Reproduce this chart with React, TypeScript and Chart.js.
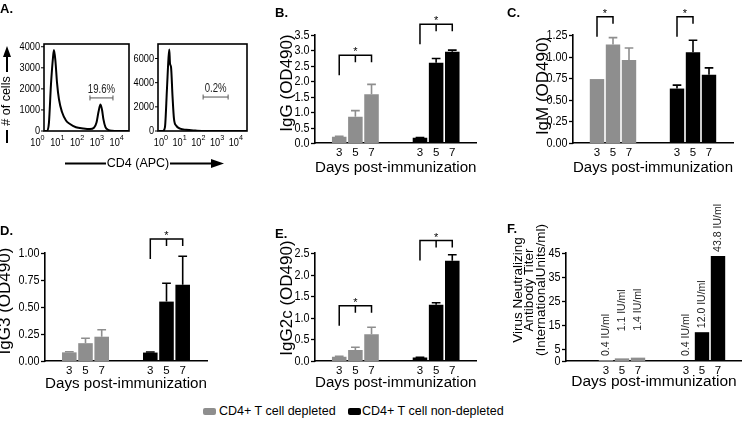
import React, { useEffect, useRef } from 'react';
import { Chart, registerables } from 'chart.js';

Chart.register(...registerables);

const FONT = "'Liberation Sans', Arial, Helvetica, sans-serif";
const GRAY = '#8e8e8e';
const BLACK = '#000000';

// ---------------- Panel A: flow cytometry histograms ----------------
const flowDecades = [0, 1, 2, 3, 4];
const histLeftCD4 = [2.2, 3.0, 3.8, 4.8, 6.1, 6.8, 8.1, 9.7, 12.2, 17.3, 27.5, 43.7, 87.7, 200, 447, 711, 955, 1200, 1515, 1820, 2140, 2700, 3630, 5760, 11700, 40000];
const histLeftCount = [0, 0, 400, 2200, 3500, 3840, 3300, 2300, 1500, 900, 500, 330, 180, 120, 90, 150, 400, 900, 1260, 1000, 550, 180, 60, 10, 0, 0];
const histRightCD4 = [0.75, 1.28, 1.64, 2.11, 2.54, 2.81, 3.06, 3.47, 4.2, 5.0, 6.5, 10.6, 22.4, 69, 240, 40000];
const histRightCount = [0, 0, 300, 3500, 6000, 6750, 5600, 5300, 2800, 1000, 450, 200, 100, 40, 0, 0];
const histLeftTicks = [0, 1000, 2000, 3000, 4000];
const histRightTicks = [0, 2000, 4000, 6000];
const gateLeft = [447, 6460];
const gateLeftCount = 1570;
const gateLeftLabel = '19.6%';
const gateRight = [180, 3900];
const gateRightCount = 2810;
const gateRightLabel = '0.2%';

// ---------------- Panels B-F: bar charts ----------------
const dayLabels = ['', '3', '5', '7', '', '', '3', '5', '7', ''];
const titerDayLabels = ['', '', '3', '5', '7', '', '', '3', '5', '7', ''];
const seriesNames = ['CD4+ T cell depleted', 'CD4+ T cell non-depleted'];
const xTitle = 'Days post-immunization';

const iggDepleted = [0.2, 0.85, 1.58];
const iggDepletedErr = [0.02, 0.2, 0.32];
const iggNonDepleted = [0.17, 2.6, 2.96];
const iggNonDepletedErr = [0.01, 0.14, 0.05];
const iggTicks = ['0.0', '0.5', '1.0', '1.5', '2.0', '2.5', '3.0', '3.5'];
const iggBrackets = [{ group: 0, from: 0, to: 2, y: 2.84 }, { group: 1, from: 0, to: 2, y: 3.85 }];

const igmDepleted = [0.74, 1.14, 0.96];
const igmDepletedErr = [0, 0.08, 0.14];
const igmNonDepleted = [0.63, 1.05, 0.79];
const igmNonDepletedErr = [0.04, 0.14, 0.08];
const igmTicks = ['0.00', '0.25', '0.50', '0.75', '1.00', '1.25'];
const igmBrackets = [{ group: 0, from: 0, to: 1, y: 1.46 }, { group: 1, from: 0, to: 1, y: 1.46 }];

const igg3Depleted = [0.08, 0.165, 0.225];
const igg3DepletedErr = [0.005, 0.045, 0.065];
const igg3NonDepleted = [0.078, 0.55, 0.705];
const igg3NonDepletedErr = [0.005, 0.17, 0.265];
const igg3Ticks = ['0.00', '0.25', '0.50', '0.75', '1.00'];
const igg3Brackets = [{ group: 1, from: 0, to: 2, y: 1.13 }];

const igg2cDepleted = [0.1, 0.255, 0.62];
const igg2cDepletedErr = [0.01, 0.065, 0.16];
const igg2cNonDepleted = [0.08, 1.3, 2.32];
const igg2cNonDepletedErr = [0.005, 0.05, 0.14];
const igg2cTicks = ['0.0', '0.5', '1.0', '1.5', '2.0', '2.5'];
const igg2cBrackets = [{ group: 0, from: 0, to: 2, y: 1.28 }, { group: 1, from: 0, to: 2, y: 2.79 }];

const titerDepleted = [0.4, 1.1, 1.4];
const titerNonDepleted = [0.4, 12.0, 43.8];
const titerTicks = ['0', '5', '15', '25', '35', '45'];

Chart.defaults.font.family = FONT;
Chart.defaults.color = '#000';

function drawText(ctx: any, text: string, x: number, y: number, size: number, align: string, sx = 1, rot = 0, weight = '') {
  ctx.save();
  ctx.translate(x, y);
  if (rot) ctx.rotate(rot);
  ctx.scale(sx, 1);
  ctx.font = `${weight} ${size}px ${FONT}`;
  ctx.textAlign = align;
  ctx.textBaseline = 'middle';
  ctx.fillText(text, 0, 0);
  ctx.restore();
}

const flowPlugin = {
  id: 'flow',
  afterDraw(chart: any, _a: any, o: any) {
    const { ctx, chartArea: a } = chart;
    const xs = chart.scales.x;
    const ys = chart.scales.y;
    ctx.save();
    ctx.strokeStyle = '#000';
    ctx.fillStyle = '#000';
    ctx.lineWidth = 1.6;
    ctx.strokeRect(a.left, a.top, a.right - a.left, a.bottom - a.top);
    ctx.lineWidth = 1;
    const yt = o.yTicks as number[];
    for (let i = 0; i < yt.length; i++) {
      const py = ys.getPixelForValue(yt[i]);
      ctx.beginPath();
      ctx.moveTo(a.left - 3, py);
      ctx.lineTo(a.left, py);
      ctx.stroke();
      drawText(ctx, String(yt[i]), a.left - 4, py, 11.5, 'right', 0.8);
    }
    const dec = o.decades as number[];
    for (let i = 0; i < dec.length; i++) {
      const k = dec[i];
      const px = xs.getPixelForValue(Math.pow(10, k));
      ctx.font = `11.5px ${FONT}`;
      const wb = ctx.measureText('10').width * 0.8;
      ctx.font = `8px ${FONT}`;
      const we = ctx.measureText(String(k)).width * 0.9;
      const x0 = px - (wb + we) / 2;
      drawText(ctx, '10', x0, a.bottom + 12, 11.5, 'left', 0.8);
      drawText(ctx, String(k), x0 + wb, a.bottom + 6.5, 8, 'left', 0.9);
    }
    const g = o.gate as number[];
    const gx1 = xs.getPixelForValue(g[0]);
    const gx2 = xs.getPixelForValue(g[1]);
    const gy = ys.getPixelForValue(o.gateCount);
    ctx.strokeStyle = '#555';
    ctx.beginPath();
    ctx.moveTo(gx1, gy); ctx.lineTo(gx2, gy);
    ctx.moveTo(gx1, gy - 2.5); ctx.lineTo(gx1, gy + 2.5);
    ctx.moveTo(gx2, gy - 2.5); ctx.lineTo(gx2, gy + 2.5);
    ctx.stroke();
    ctx.fillStyle = '#222';
    drawText(ctx, o.gateLabel, (gx1 + gx2) / 2, gy - 8, 12, 'center', 0.8);

    if (o.annotate) {
      ctx.strokeStyle = '#000';
      ctx.fillStyle = '#000';
      ctx.lineWidth = 2;
      const ax = 7;
      ctx.beginPath();
      ctx.moveTo(ax, 56); ctx.lineTo(ax, 72);
      ctx.moveTo(ax, 130); ctx.lineTo(ax, 143);
      ctx.stroke();
      ctx.beginPath();
      ctx.moveTo(ax, 46); ctx.lineTo(ax - 4, 57); ctx.lineTo(ax + 4, 57); ctx.closePath();
      ctx.fill();
      drawText(ctx, '# of cells', ax, 101, 12.5, 'center', 1, -Math.PI / 2);
      const ay = 163.5;
      ctx.beginPath();
      ctx.moveTo(65, ay); ctx.lineTo(106, ay);
      ctx.moveTo(170, ay); ctx.lineTo(212, ay);
      ctx.stroke();
      ctx.beginPath();
      ctx.moveTo(224, ay); ctx.lineTo(211, ay - 4.5); ctx.lineTo(211, ay + 4.5); ctx.closePath();
      ctx.fill();
      drawText(ctx, 'CD4 (APC)', 138, ay, 12.5, 'center', 1);
    }
    ctx.restore();
  },
};

function flowConfig(xs: number[], ys: number[], opts: any) {
  return {
    type: 'line',
    data: {
      datasets: [
        {
          data: xs.map((x, i) => ({ x, y: ys[i] })),
          borderColor: '#000',
          borderWidth: 2,
          pointRadius: 0,
          cubicInterpolationMode: 'monotone',
          fill: false,
        },
      ],
    },
    options: {
      animation: false,
      responsive: false,
      layout: { padding: opts.padding },
      plugins: {
        legend: { display: false },
        tooltip: { enabled: false },
        flow: {
          yTicks: opts.yTicks,
          decades: flowDecades,
          gate: opts.gate,
          gateCount: opts.gateCount,
          gateLabel: opts.gateLabel,
          annotate: opts.annotate,
        },
      },
      scales: {
        x: { type: 'logarithmic', display: false, min: opts.xMin, max: opts.xMax },
        y: { display: false, min: 0, max: opts.yMax },
      },
    },
    plugins: [flowPlugin],
  };
}

// ---------- bar chart plugins ----------
const errorBarPlugin = {
  id: 'errorBars',
  afterDatasetsDraw(chart: any) {
    const ctx = chart.ctx;
    const ys = chart.scales.y;
    chart.data.datasets.forEach((ds: any, di: number) => {
      const errs = ds.errors;
      if (!errs) return;
      const meta = chart.getDatasetMeta(di);
      meta.data.forEach((bar: any, i: number) => {
        const v = ds.data[i];
        const e = errs[i];
        if (v == null || e == null || e <= 0) return;
        const yTop = ys.getPixelForValue(v + e);
        const x = bar.x;
        const half = bar.width * 0.3;
        ctx.save();
        ctx.strokeStyle = ds.backgroundColor;
        ctx.lineWidth = 1.6;
        ctx.beginPath();
        ctx.moveTo(x, bar.y);
        ctx.lineTo(x, yTop);
        ctx.moveTo(x - half, yTop);
        ctx.lineTo(x + half, yTop);
        ctx.stroke();
        ctx.restore();
      });
    });
  },
};

function makeDecorPlugin(spec: any, geo: any) {
  return {
    id: 'decor',
    afterDraw(chart: any) {
      const ctx = chart.ctx;
      const ys = chart.scales.y;
      const a = chart.chartArea;
      ctx.save();
      ctx.strokeStyle = '#000';
      ctx.fillStyle = '#000';
      ctx.lineWidth = 1.3;
      // y tick marks and labels
      const ticks: string[] = spec.yTicks;
      for (let i = 0; i < ticks.length; i++) {
        const txt = ticks[i];
        const py = Math.round(ys.getPixelForValue(parseFloat(txt))) + 0.5;
        ctx.beginPath();
        ctx.moveTo(a.left - 4, py);
        ctx.lineTo(a.left, py);
        ctx.stroke();
        drawText(ctx, txt, a.left - 5.5, py, 12, 'right', 0.9);
      }
      // y axis title (one or more rotated lines)
      const lines: string[] = Array.isArray(spec.yTitle) ? spec.yTitle : [spec.yTitle];
      const tx: number[] = spec.titlePos.x;
      for (let i = 0; i < lines.length; i++) {
        drawText(ctx, lines[i], tx[i] - geo.left, spec.titlePos.y - geo.top, spec.yTitleSize, 'center', 1, -Math.PI / 2);
      }
      // significance brackets
      const items = spec.brackets || [];
      for (let n = 0; n < items.length; n++) {
        const b = items[n];
        const ds = chart.data.datasets[b.group];
        const meta = chart.getDatasetMeta(b.group);
        const bars = meta.data.filter((_: any, i: number) => ds.data[i] != null);
        const x1 = bars[b.from].x;
        const x2 = bars[b.to].x;
        const y = ys.getPixelForValue(b.y);
        ctx.lineWidth = 1.5;
        ctx.beginPath();
        ctx.moveTo(x1, y + 20);
        ctx.lineTo(x1, y);
        ctx.lineTo(x2, y);
        ctx.lineTo(x2, y + 7);
        for (let k = b.from + 1; k < b.to; k++) {
          ctx.moveTo(bars[k].x, y);
          ctx.lineTo(bars[k].x, y + 7);
        }
        ctx.stroke();
        drawText(ctx, '*', (x1 + x2) / 2, y - 3, 11, 'center');
      }
      // value labels above bars (panel F)
      if (spec.valueLabels) {
        chart.data.datasets.forEach((ds: any, di: number) => {
          const meta = chart.getDatasetMeta(di);
          const lifts = spec.labelLift ? spec.labelLift[di] : null;
          let k = 0;
          meta.data.forEach((bar: any, i: number) => {
            const v = ds.data[i];
            if (v == null) return;
            const lift = lifts ? lifts[k] : 0;
            k++;
            ctx.fillStyle = '#222';
            drawText(ctx, `${v.toFixed(1)} IU/ml`, bar.x, bar.y - 4 - lift, 10.5, 'left', 1, -Math.PI / 2);
          });
        });
      }
      ctx.restore();
    },
  };
}

function toSlots(labels: string[], values: number[] | undefined, group: number) {
  const out: (number | null)[] = labels.map(() => null);
  if (!values) return out;
  const idx = labels.map((l, i) => (l ? i : -1)).filter((i) => i >= 0).slice(group * 3, group * 3 + 3);
  idx.forEach((s, k) => (out[s] = values[k]));
  return out;
}

function barGeometry(g: any) {
  const xLH = 15.5 * 1.2;
  const left = g.left;
  const yAxisW = g.axisX - left;
  const width = Math.round(yAxisW + g.chartW + g.padRight);
  const padRight = width - yAxisW - g.chartW;
  const height = Math.round(g.xTitleY + xLH / 2 - g.top);
  const xAxisH = height - (g.zeroY - g.top);
  return { left, top: g.top, width, height, yAxisW, xAxisH, padRight, padTop: g.padTop };
}

function barConfig(s: any, geo: any) {
  const labels = s.labels;
  return {
    type: 'bar',
    data: {
      labels,
      datasets: [
        {
          label: seriesNames[0],
          data: toSlots(labels, s.dep, 0),
          errors: toSlots(labels, s.depErr, 0),
          backgroundColor: GRAY,
          grouped: false,
          barPercentage: 0.9,
          categoryPercentage: 1,
        },
        {
          label: seriesNames[1],
          data: toSlots(labels, s.nd, 1),
          errors: toSlots(labels, s.ndErr, 1),
          backgroundColor: BLACK,
          grouped: false,
          barPercentage: 0.9,
          categoryPercentage: 1,
        },
      ],
    },
    options: {
      animation: false,
      responsive: false,
      layout: { padding: { top: geo.padTop, right: geo.padRight, left: 0, bottom: 0 } },
      plugins: {
        legend: { display: false },
        tooltip: { enabled: false },
      },
      scales: {
        x: {
          grid: { display: false, drawTicks: false, tickLength: 0 },
          border: { display: true, color: '#000', width: 1.6 },
          ticks: { font: { size: 11.5 }, color: '#000', padding: 3, maxRotation: 0, autoSkip: false },
          title: { display: true, text: xTitle, font: { size: 15.5 }, color: '#000', padding: { top: 0, bottom: 0 } },
          afterFit: (sc: any) => {
            sc.height = geo.xAxisH;
          },
        },
        y: {
          min: 0,
          max: s.yMax,
          ticks: { display: false },
          grid: { display: false },
          border: { display: true, color: '#000', width: 1.6 },
          title: { display: false },
          afterFit: (sc: any) => {
            sc.width = geo.yAxisW;
          },
        },
      },
    },
    plugins: [errorBarPlugin, makeDecorPlugin(s, geo)],
  };
}

function ChartBox({ make, box }: { make: () => any; box: any }) {
  const ref = useRef<HTMLCanvasElement>(null);
  useEffect(() => {
    const chart = new Chart(ref.current as HTMLCanvasElement, make());
    return () => chart.destroy();
  }, []);
  return (
    <canvas
      ref={ref}
      width={box.width}
      height={box.height}
      style={{ position: 'absolute', left: box.left, top: box.top, width: box.width, height: box.height }}
    />
  );
}

const panelB = {
  labels: dayLabels, dep: iggDepleted, depErr: iggDepletedErr, nd: iggNonDepleted, ndErr: iggNonDepletedErr,
  yMax: 3.5, yTicks: iggTicks, yTitle: 'IgG (OD490)', yTitleSize: 17, brackets: iggBrackets,
  titlePos: { x: [287], y: 83 },
  geo: { left: 270, axisX: 315, top: 0, padTop: 35, zeroY: 143, chartW: 161.5, padRight: 8, xTitleY: 168 },
};
const panelC = {
  labels: dayLabels, dep: igmDepleted, depErr: igmDepletedErr, nd: igmNonDepleted, ndErr: igmNonDepletedErr,
  yMax: 1.25, yTicks: igmTicks, yTitle: 'IgM (OD490)', yTitleSize: 17, brackets: igmBrackets,
  titlePos: { x: [543], y: 86 },
  geo: { left: 525, axisX: 573, top: 0, padTop: 35, zeroY: 143, chartW: 160, padRight: 8, xTitleY: 168 },
};
const panelD = {
  labels: dayLabels, dep: igg3Depleted, depErr: igg3DepletedErr, nd: igg3NonDepleted, ndErr: igg3NonDepletedErr,
  yMax: 1.0, yTicks: igg3Ticks, yTitle: 'IgG3 (OD490)', yTitleSize: 17, brackets: igg3Brackets,
  titlePos: { x: [5.5], y: 301 },
  geo: { left: 0, axisX: 45, top: 218, padTop: 35, zeroY: 361, chartW: 162, padRight: 10, xTitleY: 384 },
};
const panelE = {
  labels: dayLabels, dep: igg2cDepleted, depErr: igg2cDepletedErr, nd: igg2cNonDepleted, ndErr: igg2cNonDepletedErr,
  yMax: 2.5, yTicks: igg2cTicks, yTitle: 'IgG2c (OD490)', yTitleSize: 17, brackets: igg2cBrackets,
  titlePos: { x: [287], y: 298 },
  geo: { left: 270, axisX: 315, top: 218, padTop: 35, zeroY: 361, chartW: 161.5, padRight: 8, xTitleY: 383 },
};
const panelF = {
  labels: titerDayLabels, dep: titerDepleted, nd: titerNonDepleted,
  yMax: 45, yTicks: titerTicks,
  yTitle: ['Virus Neutralizing', 'Antibody Titer', '(InternationalUnits/ml)'], yTitleSize: 13.5,
  titlePos: { x: [518, 529.5, 541], y: 290 },
  valueLabels: true,
  labelLift: [[0, 23, 23], [0, 0, 0]],
  geo: { left: 505, axisX: 566, top: 190, padTop: 63, zeroY: 361, chartW: 176, padRight: 0, xTitleY: 382 },
};

const barPanels = [panelB, panelC, panelD, panelE, panelF];

const flowLeftBox = { left: 0, top: 0, width: 250, height: 180 };
const flowRightBox = { left: 118, top: 0, width: 132, height: 180 };

const panelLetters = [
  { t: 'A.', x: 0, y: 2 },
  { t: 'B.', x: 275, y: 6 },
  { t: 'C.', x: 507, y: 5.5 },
  { t: 'D.', x: 0, y: 223.5 },
  { t: 'E.', x: 275, y: 226.5 },
  { t: 'F.', x: 507, y: 221.5 },
];

export default function App() {
  return (
    <div style={{ position: 'absolute', left: 0, top: 0, width: 742, height: 423, background: '#fff', overflow: 'hidden', fontFamily: FONT }}>
      <ChartBox
        box={flowLeftBox}
        make={() =>
          flowConfig(histLeftCD4, histLeftCount, {
            padding: { left: 44, top: 44, right: 121, bottom: 49 },
            yTicks: histLeftTicks, yMax: 4130, xMin: Math.pow(10, 0.33), xMax: Math.pow(10, 4.62),
            gate: gateLeft, gateCount: gateLeftCount, gateLabel: gateLeftLabel, annotate: true,
          })
        }
      />
      <ChartBox
        box={flowRightBox}
        make={() =>
          flowConfig(histRightCD4, histRightCount, {
            padding: { left: 40, top: 44, right: 3, bottom: 49 },
            yTicks: histRightTicks, yMax: 7200, xMin: Math.pow(10, -0.15), xMax: Math.pow(10, 4.6),
            gate: gateRight, gateCount: gateRightCount, gateLabel: gateRightLabel, annotate: false,
          })
        }
      />
      {barPanels.map((p, i) => {
        const geo = barGeometry(p.geo);
        return <ChartBox key={i} box={geo} make={() => barConfig(p, geo)} />;
      })}
      {panelLetters.map((l) => (
        <div key={l.t} style={{ position: 'absolute', left: l.x, top: l.y, font: `bold 13px ${FONT}`, lineHeight: '13px' }}>
          {l.t}
        </div>
      ))}
      <div style={{ position: 'absolute', left: 203, top: 408, width: 13, height: 7, background: GRAY, borderRadius: 2 }} />
      <div style={{ position: 'absolute', left: 219, top: 403, font: `12.5px ${FONT}`, lineHeight: '16px', whiteSpace: 'nowrap' }}>
        {seriesNames[0]}
      </div>
      <div style={{ position: 'absolute', left: 348, top: 408, width: 13, height: 7, background: BLACK, borderRadius: 2 }} />
      <div style={{ position: 'absolute', left: 362, top: 403, font: `12.5px ${FONT}`, lineHeight: '16px', whiteSpace: 'nowrap' }}>
        {seriesNames[1]}
      </div>
    </div>
  );
}
